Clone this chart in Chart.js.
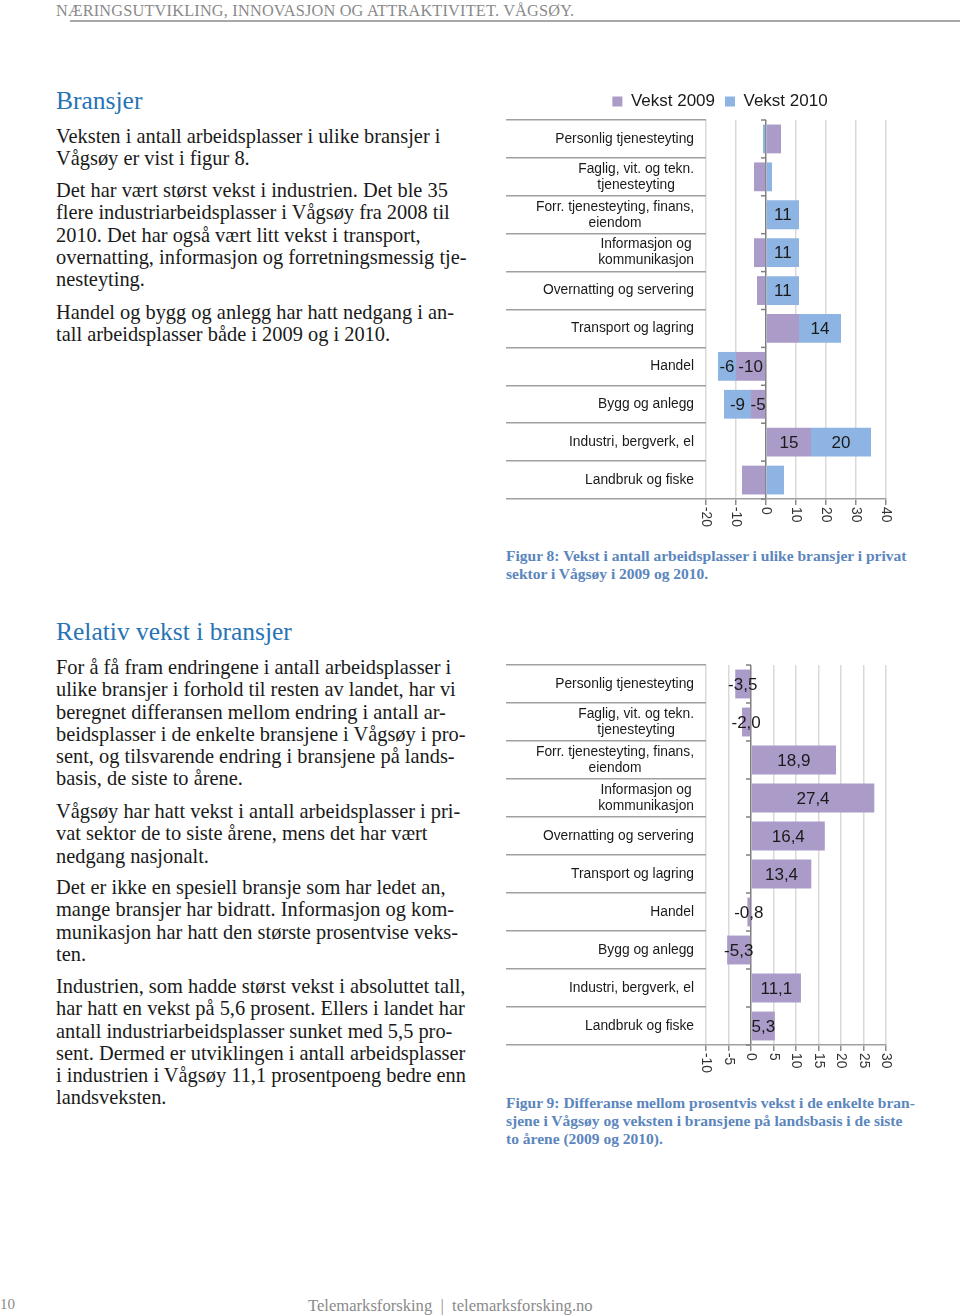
<!DOCTYPE html>
<html>
<head>
<meta charset="utf-8">
<script src="https://cdn.jsdelivr.net/npm/chart.js@4.4.0/dist/chart.umd.min.js"></script>
<style>
  body { margin: 0; background: #fff; }
  #page { position: relative; width: 960px; height: 1316px; overflow: hidden; font-family: "Liberation Serif", serif; color: #1a1a1a; }
  .abs { position: absolute; white-space: nowrap; }
  .hdr { left: 56px; top: 1px; font-size: 16.3px; color: #8a8a8a; letter-spacing: 0.2px; }
  .hdrline { left: 70px; top: 20px; width: 890px; height: 2px; background: #a8a8a8; }
  h2 { margin: 0; font-weight: normal; font-size: 25.5px; color: #2673b5; }
  .txt { font-size: 20.4px; line-height: 22.3px; }
  .cap { font-size: 15.5px; line-height: 18px; font-weight: bold; color: #5b86bd; }
  .foot { font-size: 15px; color: #8a8a8a; }
  canvas { position: absolute; }
</style>
</head>
<body>
<div id="page">
  <div class="abs hdr">NÆRINGSUTVIKLING, INNOVASJON OG ATTRAKTIVITET. VÅGSØY.</div>
  <div class="abs hdrline"></div>

  <h2 class="abs" style="left:56px; top:86px;">Bransjer</h2>
  <div class="abs txt" style="left:56px; top:125px;">Veksten i antall arbeidsplasser i ulike bransjer i<br>Vågsøy er vist i figur 8.</div>
  <div class="abs txt" style="left:56px; top:179px;">Det har vært størst vekst i industrien. Det ble 35<br>flere industriarbeidsplasser i Vågsøy fra 2008 til<br>2010. Det har også vært litt vekst i transport,<br>overnatting, informasjon og forretningsmessig tje-<br>nesteyting.</div>
  <div class="abs txt" style="left:56px; top:301px;">Handel og bygg og anlegg har hatt nedgang i an-<br>tall arbeidsplasser både i 2009 og i 2010.</div>

  <h2 class="abs" style="left:56px; top:617px;">Relativ vekst i bransjer</h2>
  <div class="abs txt" style="left:56px; top:656px;">For å få fram endringene i antall arbeidsplasser i<br>ulike bransjer i forhold til resten av landet, har vi<br>beregnet differansen mellom endring i antall ar-<br>beidsplasser i de enkelte bransjene i Vågsøy i pro-<br>sent, og tilsvarende endring i bransjene på lands-<br>basis, de siste to årene.</div>
  <div class="abs txt" style="left:56px; top:800px;">Vågsøy har hatt vekst i antall arbeidsplasser i pri-<br>vat sektor de to siste årene, mens det har vært<br>nedgang nasjonalt.</div>
  <div class="abs txt" style="left:56px; top:876px;">Det er ikke en spesiell bransje som har ledet an,<br>mange bransjer har bidratt. Informasjon og kom-<br>munikasjon har hatt den største prosentvise veks-<br>ten.</div>
  <div class="abs txt" style="left:56px; top:975px;">Industrien, som hadde størst vekst i absoluttet tall,<br>har hatt en vekst på 5,6 prosent. Ellers i landet har<br>antall industriarbeidsplasser sunket med 5,5 pro-<br>sent. Dermed er utviklingen i antall arbeidsplasser<br>i industrien i Vågsøy 11,1 prosentpoeng bedre enn<br>landsveksten.</div>

  <canvas id="chart8" style="left:506px; top:83px;" width="428" height="451"></canvas>
  <div class="abs cap" style="left:506px; top:547px;">Figur 8: Vekst i antall arbeidsplasser i ulike bransjer i privat<br>sektor i Vågsøy i 2009 og 2010.</div>

  <canvas id="chart9" style="left:506px; top:645px;" width="390" height="435"></canvas>
  <div class="abs cap" style="left:506px; top:1094px;">Figur 9: Differanse mellom prosentvis vekst i de enkelte bran-<br>sjene i Vågsøy og veksten i bransjene på landsbasis i de siste<br>to årene (2009 og 2010).</div>

  <div class="abs foot" style="left:0px; top:1296px;">10</div>
  <div class="abs foot" style="left:308px; top:1296px; font-size:16.6px;">Telemarksforsking &nbsp;|&nbsp; telemarksforsking.no</div>
</div>

<script>
// Data
const branches = [
  ['Personlig tjenesteyting'],
  ['Faglig, vit. og tekn.', 'tjenesteyting'],
  ['Forr. tjenesteyting, finans,', 'eiendom'],
  ['Informasjon og', 'kommunikasjon'],
  ['Overnatting og servering'],
  ['Transport og lagring'],
  ['Handel'],
  ['Bygg og anlegg'],
  ['Industri, bergverk, el'],
  ['Landbruk og fiske']
];
const vekst2009 = [5, -4, 0, -4, -3, 11, -10, -5, 15, -8];
const vekst2010 = [-1, 2, 11, 11, 11, 14, -6, -9, 20, 6];
const show2009 = [false, false, false, false, false, false, true, true, true, false];
const show2010 = [false, false, true, true, true, true, true, true, true, false];
const differanse = [-3.5, -2.0, 18.9, 27.4, 16.4, 13.4, -0.8, -5.3, 11.1, 5.3];
const ticks8 = [-20, -10, 0, 10, 20, 30, 40];
const ticks9 = [-10, -5, 0, 5, 10, 15, 20, 25, 30];

const purple = '#ab9bc9';
const blue = '#8db4e2';
const sans = '"Liberation Sans", Arial, sans-serif';

// draws category labels (block right aligned, lines centred) and rotated value ticks
const axisText = {
  id: 'axisText',
  afterDraw(chart) {
    const ctx = chart.ctx;
    const y = chart.scales.y, x = chart.scales.x;
    const area = chart.chartArea;
    ctx.save();
    ctx.fillStyle = '#1a1a1a';
    ctx.font = '13.8px ' + sans;
    ctx.textBaseline = 'middle';
    ctx.textAlign = 'center';
    chart.data.labels.forEach((lines, i) => {
      const w = Math.max(...lines.map(l => ctx.measureText(l).width));
      const cx = area.left - 12 - w / 2;
      const cy = y.getPixelForValue(i);
      lines.forEach((l, k) => {
        ctx.fillText(l, cx, cy + (k - (lines.length - 1) / 2) * 16);
      });
    });
    ctx.fillStyle = '#333';
    ctx.textAlign = 'left';
    x.ticks.forEach((t, i) => {
      ctx.save();
      ctx.translate(x.getPixelForTick(i), area.bottom + 8);
      ctx.rotate(Math.PI / 2);
      ctx.fillText(String(t.value), 0, 0);
      ctx.restore();
    });
    // small ticks on the zero line between categories
    const zx = x.getPixelForValue(0);
    ctx.strokeStyle = '#7f7f7f';
    ctx.lineWidth = 1.5;
    for (let i = 0; i <= chart.data.labels.length; i++) {
      const py = y.getPixelForValue(i - 0.5);
      ctx.beginPath();
      ctx.moveTo(zx - 5, py);
      ctx.lineTo(zx, py);
      ctx.stroke();
    }
    ctx.restore();
  }
};

const barText = {
  id: 'barText',
  afterDatasetsDraw(chart) {
    const ctx = chart.ctx;
    ctx.save();
    ctx.fillStyle = '#1a1a1a';
    ctx.font = '17px ' + sans;
    ctx.textAlign = 'center';
    ctx.textBaseline = 'middle';
    chart.data.datasets.forEach((ds, di) => {
      const meta = chart.getDatasetMeta(di);
      meta.data.forEach((el, i) => {
        if (ds.showLabel && !ds.showLabel[i]) return;
        const p = el.getProps(['x', 'y', 'base'], true);
        ctx.fillText(ds.fmt(ds.data[i]), (p.x + p.base) / 2, p.y + 1);
      });
    });
    ctx.restore();
  }
};

function valueAxis(tk) {
  return {
    stacked: true,
    min: tk[0],
    max: tk[tk.length - 1],
    ticks: { display: false, stepSize: tk[1] - tk[0] },
    grid: {
      color: c => (c.tick && c.tick.value === 0) ? '#7f7f7f' : '#d9d9d9',
      lineWidth: 1.5,
      tickLength: 6,
      tickColor: '#8c8c8c'
    },
    border: { display: true, color: '#a0a0a0', width: 1.5 },
    afterFit: s => { s.height = 35; }
  };
}

const catAxis = {
  stacked: true,
  ticks: { display: false },
  grid: {
    drawOnChartArea: false,
    drawTicks: true,
    tickLength: 200,
    offset: true,
    color: '#a0a0a0',
    tickColor: '#a0a0a0',
    lineWidth: 1.5
  },
  border: { display: false },
  afterFit: s => { s.width = 200; }
};

new Chart(document.getElementById('chart8'), {
  type: 'bar',
  data: {
    labels: branches,
    datasets: [
      { label: 'Vekst 2009', data: vekst2009, backgroundColor: purple, showLabel: show2009, fmt: v => String(v) },
      { label: 'Vekst 2010', data: vekst2010, backgroundColor: blue, showLabel: show2010, fmt: v => String(v) }
    ]
  },
  options: {
    indexAxis: 'y',
    responsive: false,
    animation: false,
    barPercentage: 0.76,
    categoryPercentage: 1,
    layout: { padding: 0 },
    scales: {
      x: valueAxis(ticks8),
      y: catAxis,
      spacer: {
        type: 'linear', position: 'right', display: true,
        grid: { display: false }, ticks: { display: false }, border: { display: false },
        afterFit: s => { s.width = 48; }
      }
    },
    plugins: {
      legend: {
        position: 'top',
        labels: { boxWidth: 10, boxHeight: 10, padding: 10, color: '#1a1a1a', font: { family: sans, size: 17 } }
      },
      tooltip: { enabled: false }
    }
  },
  plugins: [axisText, barText]
});

new Chart(document.getElementById('chart9'), {
  type: 'bar',
  data: {
    labels: branches,
    datasets: [
      { label: 'Differanse', data: differanse, backgroundColor: purple, fmt: v => v.toFixed(1).replace('.', ',') }
    ]
  },
  options: {
    indexAxis: 'y',
    responsive: false,
    animation: false,
    barPercentage: 0.76,
    categoryPercentage: 1,
    layout: { padding: { top: 20, right: 10, left: 0, bottom: 0 } },
    scales: {
      x: valueAxis(ticks9),
      y: catAxis
    },
    plugins: {
      legend: { display: false },
      tooltip: { enabled: false }
    }
  },
  plugins: [axisText, barText]
});
</script>
</body>
</html>
